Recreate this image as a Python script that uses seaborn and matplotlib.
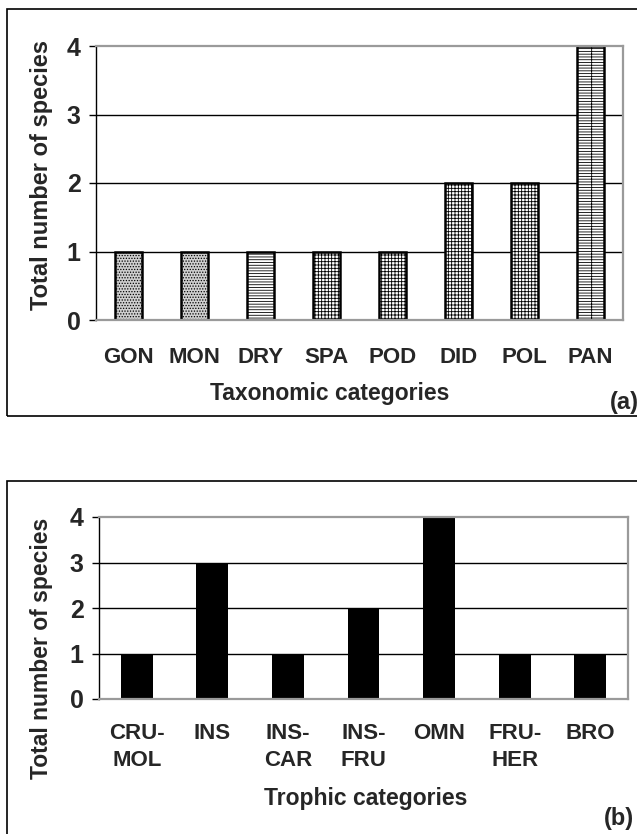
import numpy as np
import pandas as pd
import seaborn as sns
import matplotlib.pyplot as plt
from matplotlib.patches import Rectangle

# ---------------------------- data ----------------------------
taxa = ["GON", "MON", "DRY", "SPA", "POD", "DID", "POL", "PAN"]
taxa_counts = [1, 1, 1, 1, 1, 2, 2, 4]
taxa_hatch = ["......", "......", "------", "+++++", "+++++", "+++++", "+++++", "-----+"]
taxa_fill = ["#cfcfcf", "#cfcfcf", "white", "white", "white", "white", "white", "white"]

trophic = ["CRU-\nMOL", "INS", "INS-\nCAR", "INS-\nFRU", "OMN", "FRU-\nHER", "BRO"]
trophic_counts = [1, 3, 1, 2, 4, 1, 1]

yticks = [0, 1, 2, 3, 4]

# ---------------------------- style ----------------------------
sns.set_style("white")
plt.rcParams["font.family"] = ["Liberation Sans", "DejaVu Sans"]
plt.rcParams["font.weight"] = "bold"
plt.rcParams["hatch.linewidth"] = 0.6
plt.rcParams["hatch.color"] = "black"

W, H = 637, 834
fig = plt.figure(figsize=(W / 100, H / 100), dpi=100)


def px_axes(left, top, right, bottom):
    return fig.add_axes([left / W, 1 - bottom / H, (right - left) / W, (bottom - top) / H])


def style_axes(ax, xpad):
    ax.set_ylim(0, 4)
    ax.set_yticks(yticks)
    for y in [1, 2, 3]:
        ax.axhline(y, color="black", lw=1, zorder=0)
    for s in ["top", "right", "bottom"]:
        ax.spines[s].set_color("#9a9a9a")
        ax.spines[s].set_linewidth(1.6)
    ax.spines["left"].set_color("black")
    ax.spines["left"].set_linewidth(1)
    ax.tick_params(axis="y", left=True, length=5, width=1, color="black",
                   direction="out", labelsize=18, pad=6)
    ax.tick_params(axis="x", bottom=False, labelsize=16, pad=xpad)
    ax.set_xlabel("")
    ax.set_ylabel("")
    for lab in ax.get_xticklabels() + ax.get_yticklabels():
        lab.set_fontweight("bold")


# ---------------------------- panel (a) ----------------------------
ax1 = px_axes(96, 46, 623, 320)
df_a = pd.DataFrame({"cat": taxa, "n": taxa_counts})
sns.barplot(data=df_a, x="cat", y="n", ax=ax1, color="white", width=0.41,
            edgecolor="black", linewidth=1.8, zorder=2)
for patch, h, fc in zip(ax1.patches, taxa_hatch, taxa_fill):
    patch.set_hatch(h)
    patch.set_facecolor(fc)
style_axes(ax1, 16)

# ---------------------------- panel (b) ----------------------------
ax2 = px_axes(99, 517, 628, 699)
df_b = pd.DataFrame({"cat": trophic, "n": trophic_counts})
sns.barplot(data=df_b, x="cat", y="n", ax=ax2, color="black", width=0.42,
            saturation=1, edgecolor="black", linewidth=0, zorder=2)
style_axes(ax2, 14)
for lab in ax2.get_xticklabels():
    lab.set_linespacing(1.35)

# ---------------------------- labels & boxes ----------------------------
fig.text(42 / W, 1 - 175 / H, "Total number of species", rotation=90,
         ha="center", va="center", fontsize=17, fontweight="bold")
fig.text(330 / W, 1 - 394 / H, "Taxonomic categories",
         ha="center", va="center", fontsize=16.5, fontweight="bold")
fig.text(624 / W, 1 - 403 / H, "(a)", ha="center", va="center",
         fontsize=17, fontweight="bold")

fig.text(42 / W, 1 - 648 / H, "Total number of species", rotation=90,
         ha="center", va="center", fontsize=16.5, fontweight="bold")
fig.text(366 / W, 1 - 799 / H, "Trophic categories",
         ha="center", va="center", fontsize=16.5, fontweight="bold")
fig.text(619 / W, 1 - 818 / H, "(b)", ha="center", va="center",
         fontsize=17, fontweight="bold")

fig.add_artist(Rectangle((7 / W, 1 - 416 / H), 700 / W, 407 / H,
                         transform=fig.transFigure, fill=False,
                         edgecolor="black", lw=1.2))
fig.add_artist(Rectangle((7 / W, 1 - 900 / H), 700 / W, 419 / H,
                         transform=fig.transFigure, fill=False,
                         edgecolor="black", lw=1.2))

fig.savefig("out.png", dpi=100, facecolor="white")
